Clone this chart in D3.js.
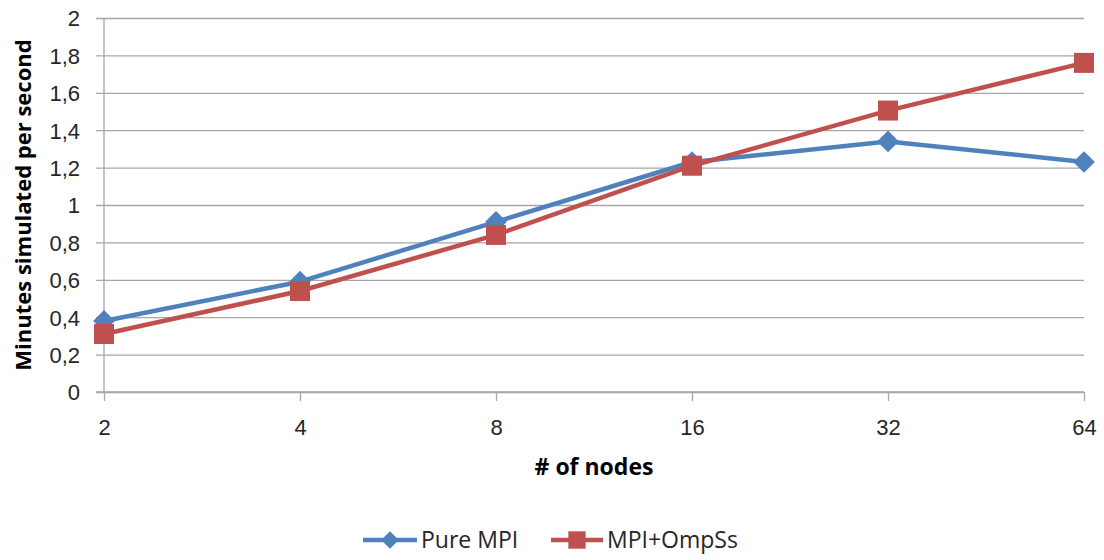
<!DOCTYPE html>
<html>
<head>
<meta charset="utf-8">
<script src="https://cdn.jsdelivr.net/npm/d3@7"></script>
<style>
  body { margin: 0; background: #fff; }
  svg { font-family: "Open Sans", "Liberation Sans", sans-serif; }
</style>
</head>
<body>
<svg id="chart" width="1104" height="560"></svg>
<script>
const nodes = ["2", "4", "8", "16", "32", "64"];
const pureMpi = [0.38, 0.59, 0.91, 1.23, 1.34, 1.23];
const mpiOmpss = [0.31, 0.54, 0.84, 1.21, 1.505, 1.76];
const yTicks = [0, 0.2, 0.4, 0.6, 0.8, 1, 1.2, 1.4, 1.6, 1.8, 2];

const series = [
  { name: "Pure MPI", values: pureMpi, color: "#4F81BD", marker: "diamond" },
  { name: "MPI+OmpSs", values: mpiOmpss, color: "#C0504D", marker: "square" },
];

const svg = d3.select("#chart");
const margin = { left: 104, right: 20, top: 18, bottom: 168 };
const W = 1104, H = 560;
const plotW = W - margin.left - margin.right;
const plotH = H - margin.top - margin.bottom;

const g = svg.append("g").attr("transform", `translate(${margin.left},${margin.top})`);

const x = d3.scalePoint().domain(nodes).range([0, plotW]);
const y = d3.scaleLinear().domain([0, 2]).range([plotH, 0]);
const fmt = (d) => String(d).replace(".", ",");

// gridlines + y labels
const yAxis = g.append("g")
  .call(d3.axisLeft(y).tickValues(yTicks).tickFormat(fmt));
yAxis.select(".domain").remove();
yAxis.selectAll(".tick line")
  .attr("x1", -8).attr("x2", plotW)
  .attr("stroke", "#a6a6a6").attr("stroke-width", 1.3);
yAxis.selectAll(".tick text")
  .attr("x", -24).attr("dy", "0.36em")
  .style("font-size", "22px").attr("fill", "#262626");

// y axis line
g.append("line")
  .attr("x1", 0).attr("x2", 0).attr("y1", 0).attr("y2", plotH)
  .attr("stroke", "#a6a6a6").attr("stroke-width", 1.3);

// x axis
const xAxis = g.append("g")
  .attr("transform", `translate(0,${plotH})`)
  .call(d3.axisBottom(x).tickSize(9).tickPadding(18));
xAxis.select(".domain").remove();
xAxis.selectAll(".tick line").attr("stroke", "#a6a6a6").attr("stroke-width", 1.3);
xAxis.selectAll(".tick text").style("font-size", "22px").attr("fill", "#262626");
g.append("line")
  .attr("x1", -8).attr("x2", plotW).attr("y1", plotH).attr("y2", plotH)
  .attr("stroke", "#a6a6a6").attr("stroke-width", 1.3);

// axis titles
svg.append("text")
  .attr("x", margin.left + plotW / 2).attr("y", 475)
  .attr("text-anchor", "middle")
  .style("font-size", "23px").style("font-weight", "bold")
  .text("# of nodes");
svg.append("text")
  .attr("transform", `translate(31,${margin.top + plotH / 2}) rotate(-90)`)
  .attr("text-anchor", "middle")
  .style("font-size", "22px").style("font-weight", "bold")
  .text("Minutes simulated per second");

const line = d3.line().x((d, i) => x(nodes[i])).y((d) => y(d));
const diamond = d3.symbol().type(d3.symbolDiamond2).size(300);
const square = d3.symbol().type(d3.symbolSquare).size(400);

series.forEach((s) => {
  g.append("path")
    .datum(s.values)
    .attr("fill", "none")
    .attr("stroke", s.color)
    .attr("stroke-width", 4.5)
    .attr("stroke-linejoin", "round")
    .attr("d", line);

  g.selectAll(null)
    .data(s.values)
    .join("path")
    .attr("transform", (d, i) => `translate(${x(nodes[i])},${y(d)})`)
    .attr("d", s.marker === "diamond" ? diamond : square)
    .attr("fill", s.color);
});

// legend
const legendItems = [
  { s: series[0], x: 363, textX: 421 },
  { s: series[1], x: 551, textX: 607 },
];
legendItems.forEach(({ s, x: lx, textX }) => {
  const lg = svg.append("g");
  lg.append("line")
    .attr("x1", lx).attr("x2", textX - 4).attr("y1", 540).attr("y2", 540)
    .attr("stroke", s.color).attr("stroke-width", 4.5);
  lg.append("path")
    .attr("transform", `translate(${(lx + textX - 4) / 2},540)`)
    .attr("d", s.marker === "diamond" ? d3.symbol().type(d3.symbolDiamond2).size(200)() : d3.symbol().type(d3.symbolSquare).size(300)())
    .attr("fill", s.color);
  lg.append("text")
    .attr("x", textX).attr("y", 548)
    .style("font-size", "23px").attr("fill", "#262626")
    .text(s.name);
});
</script>
</body>
</html>
